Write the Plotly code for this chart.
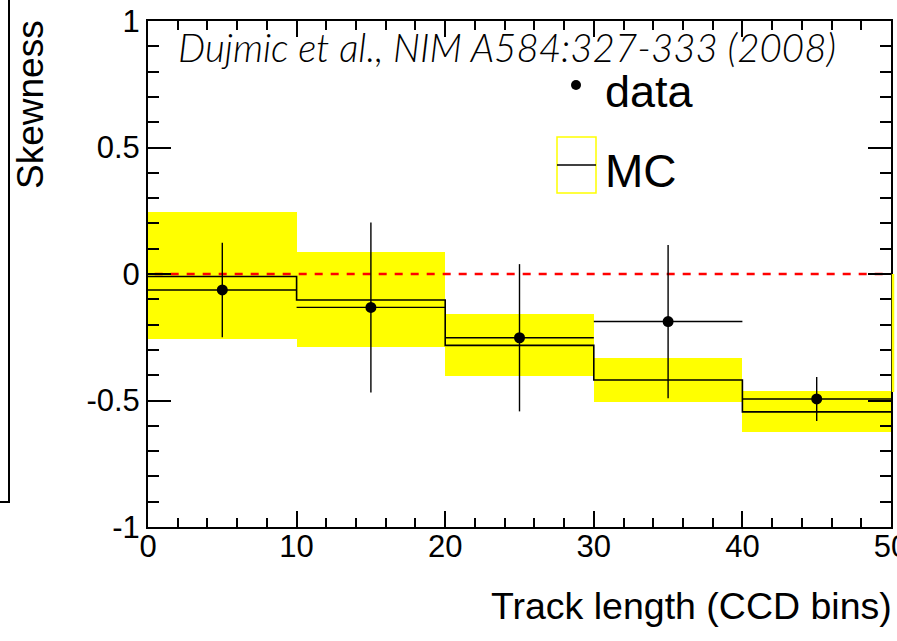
import plotly.graph_objects as go

# ---------------- data ----------------
bin_edges = [0, 10, 20, 30, 40, 50]
bin_centers = [5, 15, 25, 35, 45]
data_y = [-0.063, -0.132, -0.252, -0.188, -0.494]
data_yerr = [0.187, 0.336, 0.291, 0.303, 0.087]
data_xerr = [5, 5, 5, 5, 5]
mc_y = [-0.010, -0.103, -0.282, -0.419, -0.545]
mc_band_hi = [0.246, 0.086, -0.159, -0.331, -0.462]
mc_band_lo = [-0.258, -0.287, -0.402, -0.506, -0.626]
ref_x = [0.45, 50]
ref_y = [0, 0]
y_tickvals = [-1, -0.5, 0, 0.5, 1]
y_ticktext = ["-1", "-0.5", "0", "0.5", "1"]
x_tickvals = [0, 10, 20, 30, 40, 50]
x_ticktext = ["0", "10", "20", "30", "40", "50"]

# ---------------- layout geometry (pixels) ----------------
W, H = 897, 641
L, R, T, B = 148, 6, 21, 114
PW, PH = W - L - R, H - T - B


def px(xp):
    return (xp - L) / PW


def py(yp):
    return (H - B - yp) / PH


FONT = "Liberation Sans, Arial, sans-serif"

fig = go.Figure()

# MC error band
fig.add_trace(go.Bar(
    x=bin_centers,
    y=[h - l for h, l in zip(mc_band_hi, mc_band_lo)],
    base=mc_band_lo,
    width=10,
    marker=dict(color="#ffff00", line=dict(width=0)),
    showlegend=False,
    hoverinfo="skip",
))

# reference line
fig.add_trace(go.Scatter(
    x=ref_x, y=ref_y, mode="lines",
    line=dict(color="#ff0000", width=2.6, dash="8px,8px"),
    showlegend=False, hoverinfo="skip",
))

# MC step line
fig.add_trace(go.Scatter(
    x=bin_edges, y=mc_y + [mc_y[-1]], mode="lines",
    line=dict(color="black", width=1.6, shape="hv"),
    showlegend=False, hoverinfo="skip",
))

# data points
fig.add_trace(go.Scatter(
    x=bin_centers, y=data_y, mode="markers",
    marker=dict(color="black", size=11),
    error_y=dict(type="data", array=data_yerr, color="black", thickness=1.4, width=0),
    error_x=dict(type="data", array=data_xerr, color="black", thickness=1.4, width=0),
    showlegend=False,
))

shapes = []
# legend: data dot
shapes.append(dict(type="circle", xref="paper", yref="paper",
                   x0=px(571), x1=px(581), y0=py(90), y1=py(80),
                   fillcolor="black", line=dict(width=0)))
# legend: MC box + line
shapes.append(dict(type="rect", xref="paper", yref="paper",
                   x0=px(557), x1=px(596), y0=py(193), y1=py(137),
                   fillcolor="rgba(0,0,0,0)", line=dict(color="#ffff00", width=1.5)))
shapes.append(dict(type="line", xref="paper", yref="paper",
                   x0=px(557), x1=px(596), y0=py(165), y1=py(165),
                   line=dict(color="black", width=1.4)))
# stray frame edge at left
shapes.append(dict(type="path", xref="paper", yref="paper",
                   path=f"M {px(9)},{py(-5)} L {px(9)},{py(502)} L {px(-5)},{py(502)}",
                   line=dict(color="black", width=2)))
# thin yellow edge of the band just right of the frame
shapes.append(dict(type="line", xref="paper", yref="paper",
                   x0=px(893), x1=px(893), y0=py(274), y1=py(392),
                   line=dict(color="#ffff00", width=2.5)))

annotations = [
    dict(text="Dujmic et al., NIM A584:327-333 (2008)", xref="paper", yref="paper",
         x=px(507), y=py(47), xanchor="center", yanchor="middle", showarrow=False,
         font=dict(family="Lato", size=38.5, color="black", style="italic", weight=300)),
    dict(text="data", xref="paper", yref="paper", x=px(603), y=py(92),
         xanchor="left", yanchor="middle", showarrow=False,
         font=dict(family=FONT, size=45, color="black")),
    dict(text="MC", xref="paper", yref="paper", x=px(603), y=py(171),
         xanchor="left", yanchor="middle", showarrow=False,
         font=dict(family=FONT, size=46, color="black")),
    dict(text="Skewness", xref="paper", yref="paper", x=px(30), y=py(105),
         xanchor="center", yanchor="middle", textangle=-90, showarrow=False,
         font=dict(family=FONT, size=37, color="black")),
    dict(text="Track length (CCD bins)", xref="paper", yref="paper", x=px(894), y=py(606),
         xanchor="right", yanchor="middle", showarrow=False,
         font=dict(family=FONT, size=37.5, color="black")),
]

fig.update_layout(
    width=W, height=H, autosize=False,
    margin=dict(l=L, r=R, t=T, b=B, pad=0, autoexpand=False),
    paper_bgcolor="white", plot_bgcolor="white",
    bargap=0, barmode="overlay",
    shapes=shapes, annotations=annotations,
    showlegend=False,
)

fig.update_xaxes(
    range=[0, 50], showgrid=False, zeroline=False, automargin=False,
    showline=True, linecolor="black", linewidth=2, mirror="ticks",
    ticks="inside", ticklen=16, tickwidth=1.5, tickcolor="black",
    tickvals=x_tickvals, ticktext=x_ticktext,
    ticklabeloverflow="allow", ticklabelstandoff=-9,
    tickfont=dict(family=FONT, size=31, color="black"),
    minor=dict(dtick=2, ticks="inside", ticklen=9, tickwidth=1.5, tickcolor="black", showgrid=False),
)
fig.update_yaxes(
    range=[-1, 1], showgrid=False, zeroline=False, automargin=False,
    showline=True, linecolor="black", linewidth=2, mirror="ticks",
    ticks="inside", ticklen=23, tickwidth=1.5, tickcolor="black",
    tickvals=y_tickvals, ticktext=y_ticktext,
    ticklabeloverflow="allow",
    tickfont=dict(family=FONT, size=31, color="black"),
    minor=dict(dtick=0.1, ticks="inside", ticklen=11, tickwidth=1.5, tickcolor="black", showgrid=False),
)

fig.write_html("out.html")
